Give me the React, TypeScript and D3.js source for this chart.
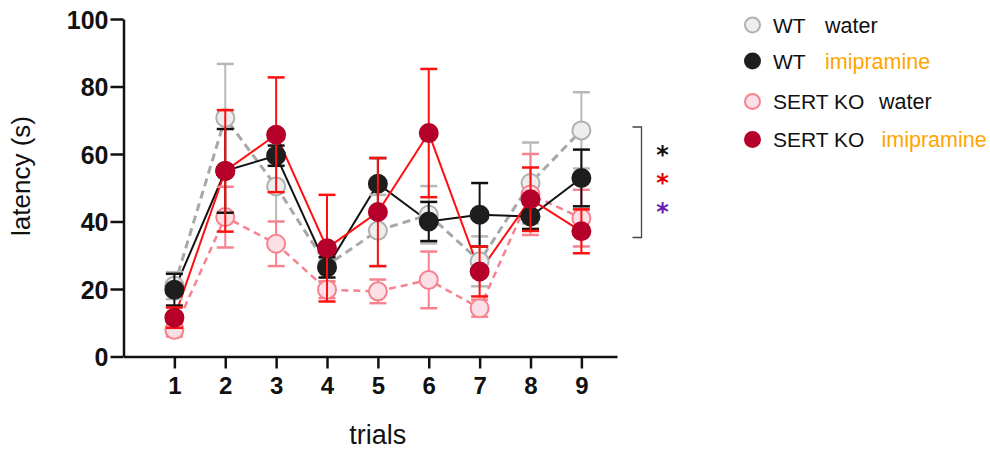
import React, { useRef, useEffect } from 'react';
import * as d3 from 'd3';

const trials = [1, 2, 3, 4, 5, 6, 7, 8, 9];
const yTicks = [0, 20, 40, 60, 80, 100];

const wtWater = [21, 70.7, 50.4, 27, 37.3, 42, 28.2, 51.4, 67];
const wtWaterErr = [4, 16, 15.8, 5, 10.6, 8.5, 7.4, 12, 11.3];
const wtImip = [19.8, 55, 59.5, 26.4, 51.2, 40, 42, 41.5, 52.9];
const wtImipErr = [4.7, 12.4, 3, 3, 7.6, 5.8, 9.4, 3.7, 8.4];
const koWater = [7.9, 41.3, 33.4, 19.8, 19.3, 22.7, 14.3, 48, 41];
const koWaterErr = [2, 9, 6.6, 2.5, 3.5, 8.4, 2.5, 12, 8.4];
const koImip = [11.5, 55, 65.7, 32.1, 42.8, 66.2, 25.2, 46.6, 37.1];
const koImipErr = [3, 18, 17, 15.8, 16, 19, 7.4, 9.4, 6.5];

const legendGroups = ['WT', 'WT', 'SERT KO', 'SERT KO'];
const legendTreat = ['water', 'imipramine', 'water', 'imipramine'];
const starColors = ['#111111', '#e00000', '#6a1bb0'];

const series = [
  { name: 'wtWater', values: wtWater, err: wtWaterErr, fill: '#eeeeee', stroke: '#b0b0b0', line: '#a8a8a8', lw: 3, dash: '8,5', errColor: '#b8b8b8' },
  { name: 'koWater', values: koWater, err: koWaterErr, fill: '#fde0e6', stroke: '#f7828f', line: '#f7828f', lw: 2.5, dash: '7,5', errColor: '#f7828f' },
  { name: 'wtImip', values: wtImip, err: wtImipErr, fill: '#1e1e1e', stroke: '#1e1e1e', line: '#111111', lw: 2, dash: null, errColor: '#111111' },
  { name: 'koImip', values: koImip, err: koImipErr, fill: '#b5002a', stroke: '#b5002a', line: '#ff1010', lw: 2, dash: null, errColor: '#ff1010' },
];
const legendOrder = [0, 2, 1, 3];

export default function App() {
  const ref = useRef<SVGSVGElement>(null);

  useEffect(() => {
    drawChart();
  }, []);

  function drawChart() {
    const svg = d3.select(ref.current);
    svg.selectAll('*').remove();

    const x = d3.scaleLinear().domain([0, 9.7]).range([123.5, 617]);
    const y = d3.scaleLinear().domain([0, 100]).range([356.5, 19]);

    // axes
    const yAxis = svg.append('g')
      .attr('transform', 'translate(123.5,0)')
      .call(d3.axisLeft(y).tickValues(yTicks).tickSize(13).tickPadding(2).tickSizeOuter(0));
    const xAxis = svg.append('g')
      .attr('transform', 'translate(0,356.5)')
      .call(d3.axisBottom(x).tickValues(trials).tickSize(12).tickPadding(8).tickSizeOuter(0));

    [yAxis, xAxis].forEach(g => {
      g.select('.domain').attr('stroke', '#111').attr('stroke-width', 2.5);
      g.selectAll('.tick line').attr('stroke', '#111').attr('stroke-width', 2.5);
      g.selectAll('.tick text')
        .attr('fill', '#111')
        .attr('font-family', 'Liberation Sans, Arial, sans-serif')
        .attr('font-weight', 'bold');
    });
    yAxis.selectAll('.tick text').attr('font-size', 25).attr('dy', '0.36em');
    xAxis.selectAll('.tick text').attr('font-size', 24);

    svg.append('text')
      .attr('transform', 'translate(29.5,176) rotate(-90)')
      .attr('text-anchor', 'middle')
      .attr('font-family', 'Liberation Sans, Arial, sans-serif')
      .attr('font-size', 26)
      .attr('fill', '#111')
      .text('latency (s)');

    svg.append('text')
      .attr('x', x(5))
      .attr('y', 444)
      .attr('text-anchor', 'middle')
      .attr('font-family', 'Liberation Sans, Arial, sans-serif')
      .attr('font-size', 27)
      .attr('fill', '#111')
      .text('trials');

    const line = d3.line<number>()
      .x((d, i) => x(trials[i]))
      .y(d => y(d));

    // lines first
    series.forEach(s => {
      svg.append('path')
        .datum(s.values)
        .attr('fill', 'none')
        .attr('stroke', s.line)
        .attr('stroke-width', s.lw)
        .attr('stroke-dasharray', s.dash)
        .attr('d', line);
    });

    // error bars + points
    series.forEach(s => {
      const g = svg.append('g');
      s.values.forEach((v, i) => {
        const cx = x(trials[i]);
        const top = y(v + s.err[i]);
        const bot = y(v - s.err[i]);
        g.append('line').attr('x1', cx).attr('x2', cx).attr('y1', top).attr('y2', bot)
          .attr('stroke', s.errColor).attr('stroke-width', 2);
        [top, bot].forEach(yy => {
          g.append('line').attr('x1', cx - 8.5).attr('x2', cx + 8.5).attr('y1', yy).attr('y2', yy)
            .attr('stroke', s.errColor).attr('stroke-width', 2.5);
        });
      });
      g.selectAll('circle')
        .data(s.values)
        .enter()
        .append('circle')
        .attr('cx', (d, i) => x(trials[i]))
        .attr('cy', d => y(d))
        .attr('r', 9)
        .attr('fill', s.fill)
        .attr('stroke', s.stroke)
        .attr('stroke-width', 2);
    });

    // legend
    const legendY = [25, 61, 101.5, 139.5];
    legendOrder.forEach((si, row) => {
      const s = series[si];
      const ly = legendY[row];
      svg.append('circle')
        .attr('cx', 752.5).attr('cy', ly).attr('r', 7.5)
        .attr('fill', s.fill).attr('stroke', s.stroke).attr('stroke-width', 2);
      svg.append('text')
        .attr('x', 773).attr('y', ly + 7.5)
        .attr('font-family', 'Liberation Sans, Arial, sans-serif')
        .attr('font-size', 21)
        .attr('fill', '#111')
        .text(legendGroups[row]);
      const isImip = legendTreat[row] === 'imipramine';
      const tx = legendGroups[row] === 'WT' ? 825 : (isImip ? 881.5 : 879);
      svg.append('text')
        .attr('x', tx).attr('y', ly + 7.5)
        .attr('font-family', 'Liberation Sans, Arial, sans-serif')
        .attr('font-size', 21.5)
        .attr('fill', isImip ? '#ffa500' : '#111')
        .text(legendTreat[row]);
    });

    // significance bracket
    svg.append('path')
      .attr('d', 'M632.5,127 H641.5 V237.5 H632.5')
      .attr('fill', 'none')
      .attr('stroke', '#444')
      .attr('stroke-width', 1.3);

    const starY = [150, 178, 206.5];
    starColors.forEach((c, i) => {
      svg.append('text')
        .attr('x', 662.5).attr('y', starY[i] + 13)
        .attr('text-anchor', 'middle')
        .attr('font-family', 'DejaVu Sans, sans-serif')
        .attr('font-size', 24)
        .attr('font-weight', 'bold')
        .attr('fill', c)
        .text('*');
    });
  }

  return (
    <svg ref={ref} width={990} height={451}
      style={{ position: 'absolute', left: 0, top: 0, background: '#fff' }} />
  );
}
